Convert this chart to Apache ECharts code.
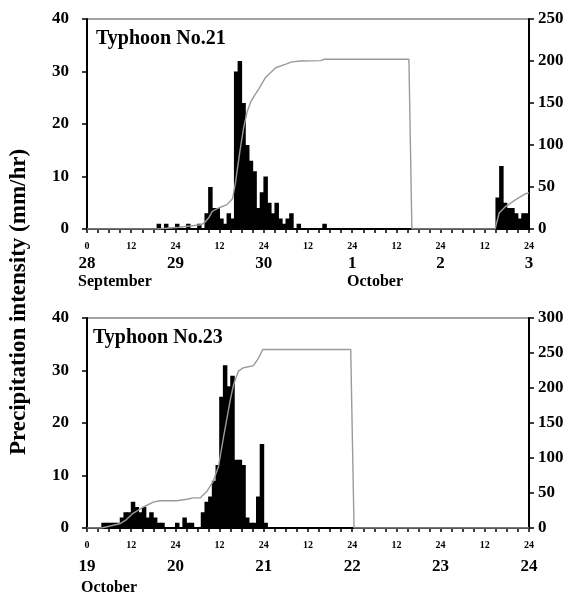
<!DOCTYPE html>
<html>
<head>
<meta charset="utf-8">
<script src="https://cdn.jsdelivr.net/npm/echarts@6/dist/echarts.min.js"></script>
<style>
html, body { margin: 0; padding: 0; background: #fff; }
#main { width: 577px; height: 593px; }
</style>
</head>
<body>
<div id="main"></div>
<script>
// hour slots 0..119 (one bar per hour)
var hourSlots = [];
for (var i = 0; i < 120; i++) hourSlots.push(i);

var t21Days = ['28', '29', '30', '1', '2', '3'];
var t23Days = ['19', '20', '21', '22', '23', '24'];

// hourly precipitation intensity (mm/hr), one line per day
var t21Rain = [].concat(
    [0, 0, 0, 0, 0, 0, 0, 0, 0, 0, 0, 0, 0, 0, 0, 0, 0, 0, 0, 1, 0, 1, 0, 0],
    [1, 0, 0, 1, 0, 0, 1, 0, 3, 8, 4, 4, 2, 1, 3, 2, 30, 32, 24, 16, 13, 11, 4, 7],
    [10, 5, 3, 5, 2, 1, 2, 3, 0, 1, 0, 0, 0, 0, 0, 0, 1, 0, 0, 0, 0, 0, 0, 0],
    [0, 0, 0, 0, 0, 0, 0, 0, 0, 0, 0, 0, 0, 0, 0, 0, 0, 0, 0, 0, 0, 0, 0, 0],
    [0, 0, 0, 0, 0, 0, 0, 0, 0, 0, 0, 0, 0, 0, 0, 6, 12, 5, 4, 4, 3, 2, 3, 3]
);
var t23Rain = [].concat(
    [0, 0, 0, 0, 1, 1, 1, 1, 1, 2, 3, 3, 5, 4, 3, 4, 2, 3, 2, 1, 1, 0, 0, 0],
    [1, 0, 2, 1, 1, 0, 0, 3, 5, 6, 9, 12, 25, 31, 27, 29, 13, 13, 12, 2, 1, 1, 6, 16],
    [1, 0, 0, 0, 0, 0, 0, 0, 0, 0, 0, 0, 0, 0, 0, 0, 0, 0, 0, 0, 0, 0, 0, 0],
    [0, 0, 0, 0, 0, 0, 0, 0, 0, 0, 0, 0, 0, 0, 0, 0, 0, 0, 0, 0, 0, 0, 0, 0],
    [0, 0, 0, 0, 0, 0, 0, 0, 0, 0, 0, 0, 0, 0, 0, 0, 0, 0, 0, 0, 0, 0, 0, 0]
);

// cumulative precipitation (mm)
var t21CumHour = [0, 19, 25, 31, 32, 33, 34, 35.7, 38, 39.5, 40.3, 41.5, 42.5, 43.5, 44.5, 45.5, 46.7, 48.4, 49.8, 51.2, 53.8, 55.6, 58, 63.5, 64.3, 87.4, 88.2, 110.8, 111.9, 113.7, 116.4, 119.1, 120];
var t21Cum     = [0, 0, 2, 5, 8, 13, 21, 25, 29, 36, 55, 92, 120, 140, 152, 159, 167, 180, 186, 192, 196, 199, 200, 200.5, 202, 202, 0, 0, 19, 27, 35, 42, 43];
var t23CumHour = [0, 3.9, 8.9, 10.7, 12.5, 15.3, 18, 19.8, 24.4, 27.1, 28.9, 30.7, 32.5, 34.3, 35.7, 37.1, 38.9, 39.8, 41.1, 42.5, 45.2, 46.6, 47.7, 71.6, 72.5, 120];
var t23Cum     = [0, 0, 6, 12, 21, 30, 37, 39, 39, 41, 43, 43, 52, 67, 88, 131, 183, 205, 224, 229, 232, 243, 255, 255, 0, 0];

var FONT = 'Liberation Serif';

function pairs(xs, ys) {
    var out = [];
    for (var k = 0; k < xs.length; k++) out.push([xs[k], ys[k]]);
    return out;
}

function hourLabel(v) {
    if (v === 0) return '0';
    if (v % 24 === 0) return '24';
    if (v % 12 === 0) return '12';
    return '';
}

var charts = [
    { top: 19, days: t21Days, rain: t21Rain, cum: pairs(t21CumHour, t21Cum), rightMax: 250, dayMargin: 26 },
    { top: 318, days: t23Days, rain: t23Rain, cum: pairs(t23CumHour, t23Cum), rightMax: 300, dayMargin: 30 }
];

var txt = { color: '#000', fontFamily: FONT, fontWeight: 'bold' };

var grid = [], xAxis = [], yAxis = [], series = [];

charts.forEach(function (c, g) {
    grid.push({
        left: 87, top: c.top, width: 442, height: 210,
        show: true, borderColor: '#444', borderWidth: 1, backgroundColor: 'transparent'
    });

    // hour ticks
    xAxis.push({
        gridIndex: g, type: 'value', min: 0, max: 120, interval: 3, position: 'bottom',
        axisLine: { show: true, onZero: false, lineStyle: { color: '#000', width: 2 } },
        axisTick: { show: true, inside: false, length: 4, lineStyle: { color: '#000', width: 1.5 } },
        axisLabel: Object.assign({ fontSize: 10, margin: 12, showMinLabel: true, showMaxLabel: true, formatter: hourLabel }, txt),
        splitLine: { show: false }
    });
    // day labels
    xAxis.push({
        gridIndex: g, type: 'value', min: 0, max: 120, interval: 24, position: 'bottom',
        axisLine: { show: false }, axisTick: { show: false },
        axisLabel: Object.assign({
            fontSize: 17, margin: c.dayMargin, showMinLabel: true, showMaxLabel: true,
            formatter: (function (days) { return function (v) { return days[v / 24]; }; })(c.days)
        }, txt),
        splitLine: { show: false }
    });
    // hidden category axis for hourly bars
    xAxis.push({
        gridIndex: g, type: 'category', data: hourSlots, show: false, boundaryGap: true, position: 'top'
    });

    yAxis.push({
        gridIndex: g, type: 'value', min: 0, max: 40, interval: 10, position: 'left',
        axisLine: { show: true, onZero: false, lineStyle: { color: '#000', width: 2 } },
        axisTick: { show: true, inside: false, length: 5, lineStyle: { color: '#000', width: 1.5 } },
        axisLabel: Object.assign({ fontSize: 17, margin: 18 }, txt),
        splitLine: { show: false }
    });
    yAxis.push({
        gridIndex: g, type: 'value', min: 0, max: c.rightMax, interval: 50, position: 'right',
        axisLine: { show: true, onZero: false, lineStyle: { color: '#000', width: 2 } },
        axisTick: { show: true, inside: false, length: 5, lineStyle: { color: '#000', width: 1.5 } },
        axisLabel: Object.assign({ fontSize: 17, margin: 9 }, txt),
        splitLine: { show: false }
    });

    // bars slightly wider than the hour band so neighbours merge without seams
    series.push({
        type: 'bar', xAxisIndex: g * 3 + 2, yAxisIndex: g * 2,
        data: c.rain, barWidth: 4.5, barGap: '-100%',
        itemStyle: { color: '#000' }, silent: true
    });
    series.push({
        type: 'line', xAxisIndex: g * 3, yAxisIndex: g * 2 + 1,
        data: c.cum, showSymbol: false, symbol: 'none', silent: true,
        lineStyle: { color: '#9a9a9a', width: 1.4 }
    });
});

var chart = echarts.init(document.getElementById('main'), null, { renderer: 'canvas' });

chart.setOption({
    animation: false,
    backgroundColor: '#fff',
    grid: grid,
    xAxis: xAxis,
    yAxis: yAxis,
    series: series,
    graphic: [
        { type: 'text', left: 96, top: 29, style: { text: 'Typhoon No.21', fontSize: 20, fill: '#000', fontFamily: FONT, fontWeight: 'bold' } },
        { type: 'text', left: 93, top: 328, style: { text: 'Typhoon No.23', fontSize: 20, fill: '#000', fontFamily: FONT, fontWeight: 'bold' } },
        { type: 'text', left: 78, top: 274, style: { text: 'September', fontSize: 16, fill: '#000', fontFamily: FONT, fontWeight: 'bold' } },
        { type: 'text', left: 347, top: 274, style: { text: 'October', fontSize: 16, fill: '#000', fontFamily: FONT, fontWeight: 'bold' } },
        { type: 'text', left: 81, top: 580, style: { text: 'October', fontSize: 16, fill: '#000', fontFamily: FONT, fontWeight: 'bold' } },
        {
            type: 'text', x: 19, y: 302, rotation: Math.PI / 2,
            style: { text: 'Precipitation intensity (mm/hr)', fontSize: 23, fill: '#000', fontFamily: FONT, fontWeight: 'bold', align: 'center', verticalAlign: 'middle' }
        }
    ]
});
</script>
</body>
</html>
